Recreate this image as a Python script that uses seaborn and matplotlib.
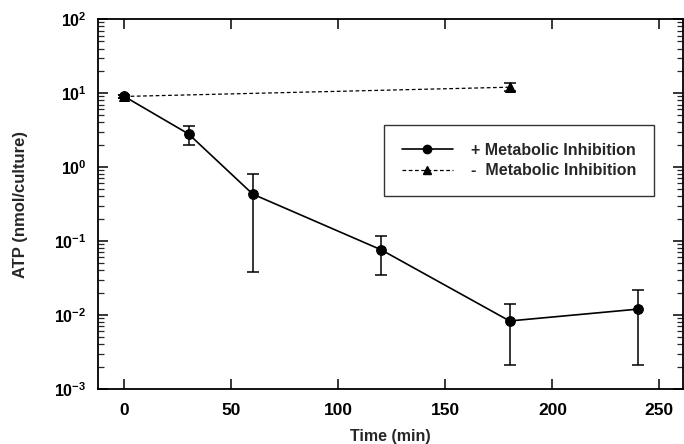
import numpy as np
import pandas as pd
import matplotlib
matplotlib.use("Agg")
import matplotlib.pyplot as plt
import seaborn as sns
from matplotlib.ticker import LogLocator, FixedLocator, NullFormatter

# ATP time course, with and without metabolic inhibition
time_plus = [0, 30, 60, 120, 180, 240]
atp_plus = [9.0, 2.8, 0.43, 0.076, 0.0083, 0.012]
atp_plus_low = [8.6, 1.97, 0.038, 0.0345, 0.0021, 0.0021]
atp_plus_high = [9.4, 3.56, 0.80, 0.117, 0.014, 0.022]

time_minus = [0, 180]
atp_minus = [9.0, 12.0]
atp_minus_low = [8.6, 10.6]
atp_minus_high = [9.4, 13.8]

label_plus = "+ Metabolic Inhibition"
label_minus = "-  Metabolic Inhibition"

x_ticks = [0, 50, 100, 150, 200, 250]

sns.set_theme(style="ticks")
plt.rcParams["font.family"] = ["Liberation Sans", "DejaVu Sans"]
plt.rcParams["font.weight"] = "bold"
plt.rcParams["mathtext.fontset"] = "custom"
plt.rcParams["mathtext.rm"] = "Liberation Sans:bold"
plt.rcParams["mathtext.it"] = "Liberation Sans:bold"
plt.rcParams["mathtext.default"] = "rm"
plt.rcParams["axes.unicode_minus"] = False

df = pd.concat([
    pd.DataFrame({"Time": time_plus, "ATP": atp_plus, "Condition": label_plus}),
    pd.DataFrame({"Time": time_minus, "ATP": atp_minus, "Condition": label_minus}),
], ignore_index=True)

fig = plt.figure(figsize=(6.84, 4.44), dpi=100)
ax = fig.add_axes([0.143, 0.124, 0.8555, 0.833])

sns.lineplot(
    data=df, x="Time", y="ATP", style="Condition", hue="Condition",
    palette={label_plus: "black", label_minus: "black"},
    dashes={label_plus: "", label_minus: (3, 2)},
    markers={label_plus: "o", label_minus: "^"},
    markersize=7, linewidth=1.2, markeredgecolor="black",
    ax=ax, legend=False, sort=False,
)
for s in ax.lines:
    if s.get_linestyle() not in ("-", "solid"):
        s.set_linewidth(0.9)

# asymmetric error bars (log-scale values)
for t, y, lo, hi in [(time_plus, atp_plus, atp_plus_low, atp_plus_high),
                     (time_minus, atp_minus, atp_minus_low, atp_minus_high)]:
    y = np.array(y)
    yerr = np.vstack([y - np.array(lo), np.array(hi) - y])
    ax.errorbar(t, y, yerr=yerr, fmt="none", ecolor="black",
                elinewidth=1.1, capsize=4, capthick=1.1)

ax.set_yscale("log")
ax.set_ylim(1e-3, 1e2)
ax.set_xlim(-12.4, 261)
ax.xaxis.set_major_locator(FixedLocator(x_ticks))
ax.yaxis.set_major_locator(LogLocator(base=10, numticks=10))
ax.yaxis.set_minor_locator(LogLocator(base=10, subs=np.arange(2, 10), numticks=20))
ax.yaxis.set_minor_formatter(NullFormatter())

for sp in ax.spines.values():
    sp.set_visible(True)
    sp.set_linewidth(1.3)
    sp.set_color("black")

ax.tick_params(axis="both", which="major", direction="in", length=7, width=1.1,
               top=True, right=True, colors="black")
ax.tick_params(axis="x", which="major", labelsize=12.5, pad=10)
ax.tick_params(axis="y", which="major", labelsize=11.5, pad=8)
ax.tick_params(axis="y", which="minor", direction="in", length=4, width=0.9,
               left=True, right=True)
for lab in ax.get_xticklabels() + ax.get_yticklabels():
    lab.set_fontweight("bold")

ax.set_xlabel("Time (min)", fontsize=11.5, fontweight="bold", labelpad=8)
ax.set_ylabel("ATP (nmol/culture)", fontsize=12, fontweight="bold", labelpad=19)

handles = [
    plt.Line2D([], [], color="black", linestyle="-", linewidth=1.2,
               marker="o", markersize=6),
    plt.Line2D([], [], color="black", linestyle=(0, (3, 2)), linewidth=0.9,
               marker="^", markersize=6),
]
leg = ax.legend(handles, [label_plus, label_minus], loc="center",
                bbox_to_anchor=(0.7197, 0.6176), frameon=True, fancybox=False,
                edgecolor="black", handlelength=3.2,
                borderpad=1.1, labelspacing=0.35, handletextpad=1.1,
                prop={"weight": "bold", "size": 11.5})
leg.get_frame().set_linewidth(1.0)

fig.savefig("out.png", dpi=100)
